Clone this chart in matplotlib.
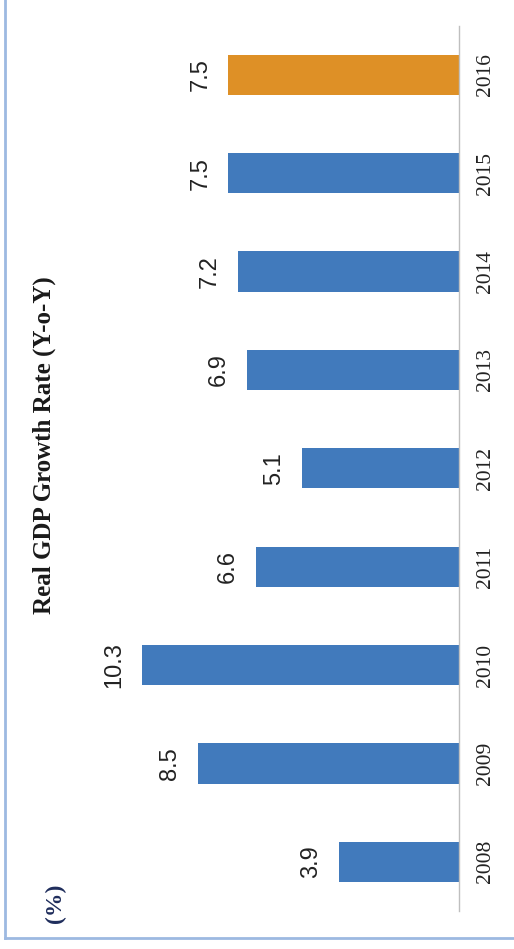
import matplotlib
matplotlib.use("Agg")
import matplotlib.pyplot as plt
from matplotlib.lines import Line2D

years = ["2008", "2009", "2010", "2011", "2012", "2013", "2014", "2015", "2016"]
growth = [3.9, 8.5, 10.3, 6.6, 5.1, 6.9, 7.2, 7.5, 7.5]
colors = ["#417ABC"] * 8 + ["#DE9026"]

W, H = 514, 949
fig = plt.figure(figsize=(W / 100, H / 100), dpi=100)

# axes placed so the baseline sits at x=459 px
ax = fig.add_axes([20 / W, 38 / H, 439 / W, 885.4 / H])
pos = range(len(years))
ax.barh(pos, growth, height=0.41, color=colors)
ax.set_xlim(439 / 30.75, 0)
ax.set_ylim(-0.5, len(years) - 0.5)

for s in ["left", "top", "bottom"]:
    ax.spines[s].set_visible(False)
ax.spines["right"].set_color("#BFBFBF")
ax.spines["right"].set_linewidth(1.0)
ax.set_xticks([])
ax.yaxis.tick_right()
ax.set_yticks(list(pos))
ax.set_yticklabels(years, rotation=90, va="center",
                   fontfamily="Liberation Serif", fontsize=15.5, color="#222222")
ax.tick_params(axis="y", length=0, pad=12)

for i, v in enumerate(growth):
    ax.text(v + 0.55, i, f"{v}", rotation=90, ha="right", va="center",
            fontfamily="Liberation Sans", fontsize=17, color="#222222")

fig.text(44 / W, 1 - 445 / H, "Real GDP Growth Rate (Y-o-Y)", rotation=90,
         ha="center", va="center", fontfamily="Liberation Serif",
         fontweight="bold", fontsize=18, color="#1a1a1a")
fig.text(55 / W, 1 - 903 / H, "(%)", rotation=90, ha="center", va="center",
         fontfamily="Liberation Serif", fontweight="bold", fontsize=17,
         color="#1F2D5C")

# frame lines on the left and bottom
fig.add_artist(Line2D([5 / W, 5 / W], [1 - 938 / H, 1], transform=fig.transFigure,
                      color="#9DB9E1", linewidth=2))
fig.add_artist(Line2D([5 / W, 1], [1 - 938 / H, 1 - 938 / H], transform=fig.transFigure,
                      color="#9DB9E1", linewidth=2))

fig.savefig("out.png", dpi=100)
